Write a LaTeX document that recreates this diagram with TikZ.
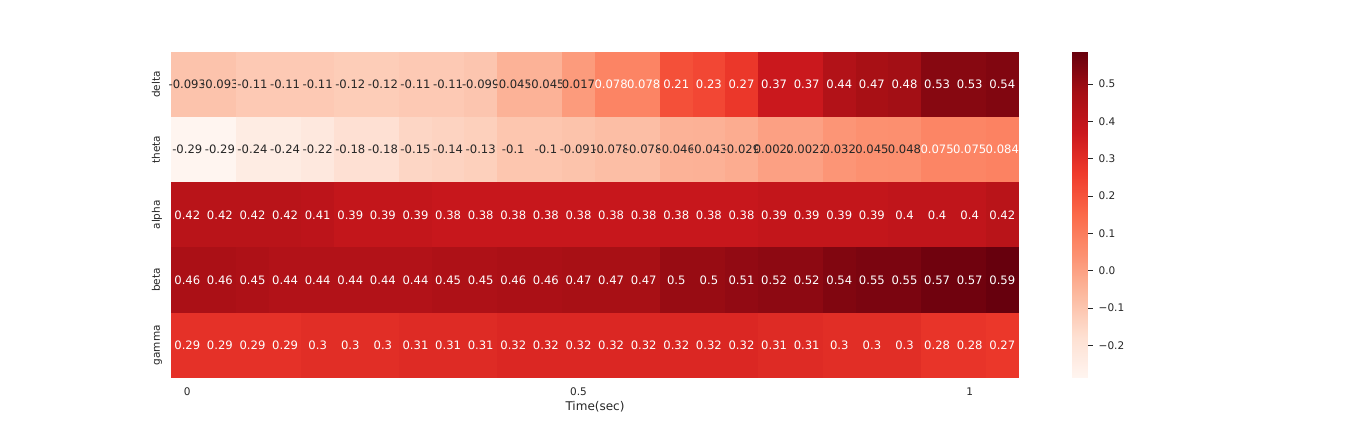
\documentclass[tikz,border=0pt]{standalone}
\usepackage{fontspec}
\setmainfont{DejaVu Sans}
\definecolor{R0}{RGB}{255,245,240}
\definecolor{R1}{RGB}{254,224,210}
\definecolor{R2}{RGB}{252,187,161}
\definecolor{R3}{RGB}{252,146,114}
\definecolor{R4}{RGB}{251,106,74}
\definecolor{R5}{RGB}{239,59,44}
\definecolor{R6}{RGB}{203,24,29}
\definecolor{R7}{RGB}{165,15,21}
\definecolor{R8}{RGB}{103,0,13}
\definecolor{txtdark}{RGB}{38,38,38}
\newcommand\cellcolorset[1]{%
  \pgfmathsetmacro\cvT{max(0,min(7.9999,((#1)+0.287)/0.873*8))}%
  \pgfmathtruncatemacro\cvK{floor(\cvT)}%
  \pgfmathtruncatemacro\cvN{\cvK+1}%
  \pgfmathsetmacro\cvP{100*(1-(\cvT-\cvK))}%
  \colorlet{cellc}{R\cvK!\cvP!R\cvN}%
  \pgfmathtruncatemacro\cvW{(#1)>0.06}%
  \ifnum\cvW=1 \colorlet{cellt}{white}\else\colorlet{cellt}{txtdark}\fi
}
\newcommand\drawrow[3]{%
  \foreach \v [count=\c from 0] in {#3} {%
    \cellcolorset{\v}%
    \pgfmathsetmacro\xa{171+32.6*\c}%
    \pgfmathsetmacro\ya{52+65.14*#1}%
    \fill[cellc] (\xa,\ya) rectangle ++(32.9,65.4);
    \node[celltext, text=cellt] (c#1-\c) at ({\xa+16.3},{\ya+32.57}) {\v};
  }
  \node[ylab] (lab#1) at (159.8,{52+65.14*#1+32.57}) {#2};
}
\tikzset{
  celltext/.style={inner sep=0, font=\fontsize{11.6}{13}\selectfont},
  ylab/.style={rotate=90, anchor=base, inner sep=0, text=txtdark, font=\fontsize{10.5}{12}\selectfont},
  xlab/.style={anchor=base, inner sep=0, text=txtdark, font=\fontsize{10.5}{12}\selectfont},
  cblab/.style={anchor=west, inner sep=0, text=txtdark, font=\fontsize{10.5}{12}\selectfont},
  cbtick/.style={draw=txtdark, line width=0.8pt},
}
\begin{document}
\begin{tikzpicture}[x=1pt,y=-1pt]
\useasboundingbox (0,0) rectangle (1368,432);
\fill[white] (0,0) rectangle (1368,432);
\drawrow{0}{delta}{-0.093,-0.093,-0.11,-0.11,-0.11,-0.12,-0.12,-0.11,-0.11,-0.099,-0.045,-0.045,0.017,0.078,0.078,0.21,0.23,0.27,0.37,0.37,0.44,0.47,0.48,0.53,0.53,0.54}
\drawrow{1}{theta}{-0.29,-0.29,-0.24,-0.24,-0.22,-0.18,-0.18,-0.15,-0.14,-0.13,-0.1,-0.1,-0.091,-0.078,-0.078,-0.046,-0.043,-0.029,0.0022,0.0022,0.032,0.045,0.048,0.075,0.075,0.084}
\drawrow{2}{alpha}{0.42,0.42,0.42,0.42,0.41,0.39,0.39,0.39,0.38,0.38,0.38,0.38,0.38,0.38,0.38,0.38,0.38,0.38,0.39,0.39,0.39,0.39,0.4,0.4,0.4,0.42}
\drawrow{3}{beta}{0.46,0.46,0.45,0.44,0.44,0.44,0.44,0.44,0.45,0.45,0.46,0.46,0.47,0.47,0.47,0.5,0.5,0.51,0.52,0.52,0.54,0.55,0.55,0.57,0.57,0.59}
\drawrow{4}{gamma}{0.29,0.29,0.29,0.29,0.3,0.3,0.3,0.31,0.31,0.31,0.32,0.32,0.32,0.32,0.32,0.32,0.32,0.32,0.31,0.31,0.3,0.3,0.3,0.28,0.28,0.27}
% x ticks
\node[xlab] (xt0) at (187.3,395.7) {0};
\node[xlab] (xt1) at (578.5,395.7) {0.5};
\node[xlab] (xt2) at (969.7,395.7) {1};
\node[anchor=base, inner sep=0, text=txtdark, font=\fontsize{12}{14}\selectfont] (xlabel) at (595,410) {Time(sec)};
% colorbar
\begin{scope}
\clip (1072,52) rectangle (1088,377.7);
\foreach \i in {0,...,324} {
  \pgfmathsetmacro\cbv{-0.287+(\i+0.5)/325*0.873}
  \cellcolorset{\cbv}
  \fill[cellc] (1072,{377.7-\i*1.00215+0.2}) rectangle (1088,{377.7-(\i+1)*1.00215-0.4});
}
\end{scope}
\foreach \t/\lab [count=\k] in {0.5/0.5,0.4/0.4,0.3/0.3,0.2/0.2,0.1/0.1,0.0/0.0,-0.1/−0.1,-0.2/−0.2} {
  \pgfmathsetmacro\ty{377.7-(\t+0.287)/0.873*325.7}
  \coordinate (cbt\k) at (1088,\ty);
  \draw[cbtick] (cbt\k) -- ++(4.7,0);
  \node[cblab] (cbl\k) at (1098.5,\ty) {\lab};
}
\end{tikzpicture}
\end{document}
